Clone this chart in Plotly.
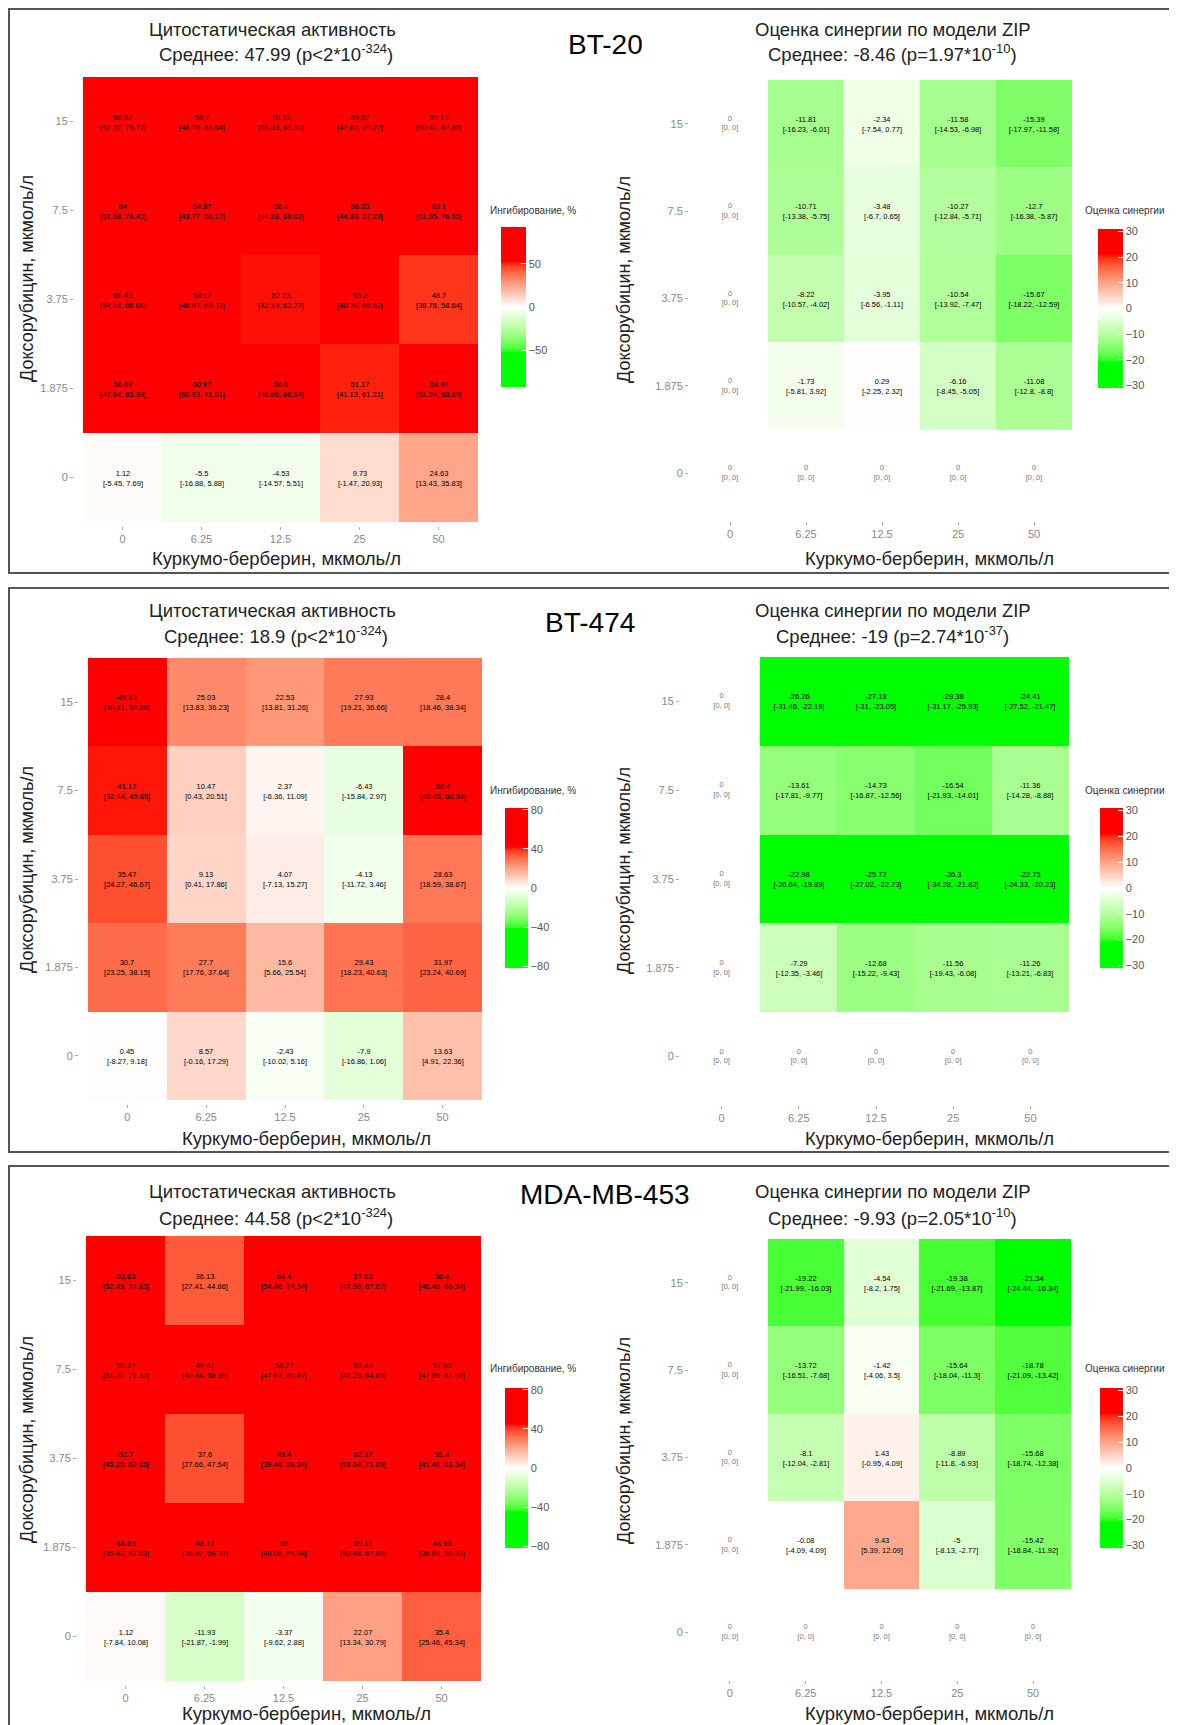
import numpy as np
import plotly.graph_objects as go

W, H = 1177, 1725

# ---------------- DATA ----------------
curcumin_ticks = ["0", "6.25", "12.5", "25", "50"]
doxo_ticks_top_down = ["15", "7.5", "3.75", "1.875", "0"]
cell_lines = ["BT-20", "BT-474", "MDA-MB-453"]

inhib_title = "Цитостатическая активность"
syn_title = "Оценка синергии по модели ZIP"
inhib_mean = ["47.99", "18.9", "44.58"]
inhib_p = ["p&lt;2*10<sup>-324</sup>", "p&lt;2*10<sup>-324</sup>", "p&lt;2*10<sup>-324</sup>"]
syn_mean = ["-8.46", "-19", "-9.93"]
syn_p = ["p=1.97*10<sup>-10</sup>", "p=2.74*10<sup>-37</sup>", "p=2.05*10<sup>-10</sup>"]

# rows: doxorubicin 15, 7.5, 3.75, 1.875, 0 ; columns: curcumin-berberine 0, 6.25, 12.5, 25, 50
bt20_inhib = [[68.57, 58.7, 70.13, 59.07, 59.13],
              [64, 54.97, 56.6, 56.03, 69.1],
              [60.43, 58.17, 52.23, 53.2, 48.7],
              [56.67, 60.97, 56.6, 51.17, 59.97],
              [1.12, -5.5, -4.53, 9.73, 24.63]]
bt20_inhib_lo = [[57.37, 48.76, 58.93, 47.87, 50.41],
                 [51.58, 43.77, 44.18, 44.83, 61.65],
                 [54.18, 46.97, 42.19, 40.78, 38.76],
                 [47.94, 50.93, 46.66, 41.13, 51.24],
                 [-5.45, -16.88, -14.57, -1.47, 13.43]]
bt20_inhib_hi = [[79.77, 68.64, 81.33, 70.27, 67.85],
                 [76.42, 66.17, 69.02, 67.23, 76.55],
                 [66.68, 69.37, 62.27, 65.62, 58.64],
                 [65.39, 71.01, 66.54, 61.21, 68.69],
                 [7.69, 5.88, 5.51, 20.93, 35.83]]
bt20_syn = [[0, -11.81, -2.34, -11.58, -15.39],
            [0, -10.71, -3.48, -10.27, -12.7],
            [0, -8.22, -3.95, -10.54, -15.67],
            [0, -1.73, 0.29, -6.16, -11.08],
            [0, 0, 0, 0, 0]]
bt20_syn_lo = [[0, -16.23, -7.54, -14.53, -17.97],
               [0, -13.38, -6.7, -12.84, -16.38],
               [0, -10.57, -6.56, -13.92, -18.22],
               [0, -5.81, -2.25, -8.45, -12.8],
               [0, 0, 0, 0, 0]]
bt20_syn_hi = [[0, -6.01, 0.77, -6.98, -11.58],
               [0, -5.75, 0.65, -5.71, -5.87],
               [0, -4.02, -1.11, -7.47, -12.59],
               [0, 3.92, 2.32, -5.05, -8.8],
               [0, 0, 0, 0, 0]]

bt474_inhib = [[49.13, 25.03, 22.53, 27.93, 28.4],
               [41.17, 10.47, 2.37, -6.43, 50.4],
               [35.47, 9.13, 4.07, -4.13, 28.63],
               [30.7, 27.7, 15.6, 29.43, 31.97],
               [0.45, 8.57, -2.43, -7.9, 13.63]]
bt474_inhib_lo = [[40.41, 13.83, 13.81, 19.21, 18.46],
                  [32.44, 0.43, -6.36, -15.84, 40.46],
                  [24.27, 0.41, -7.13, -11.72, 18.59],
                  [23.25, 17.76, 5.66, 18.23, 23.24],
                  [-8.27, -0.16, -10.02, -16.86, 4.91]]
bt474_inhib_hi = [[57.86, 36.23, 31.26, 36.66, 38.34],
                  [49.89, 20.51, 11.09, 2.97, 60.34],
                  [46.67, 17.86, 15.27, 3.46, 38.67],
                  [38.15, 37.64, 25.54, 40.63, 40.69],
                  [9.18, 17.29, 5.16, 1.06, 22.36]]
bt474_syn = [[0, -26.26, -27.18, -29.38, -24.41],
             [0, -13.61, -14.73, -16.54, -11.36],
             [0, -22.98, -25.72, -26.3, -22.75],
             [0, -7.29, -12.68, -11.56, -11.26],
             [0, 0, 0, 0, 0]]
bt474_syn_lo = [[0, -31.46, -31, -31.17, -27.52],
                [0, -17.81, -16.87, -21.93, -14.28],
                [0, -26.64, -27.02, -34.28, -24.33],
                [0, -12.35, -15.22, -19.43, -13.21],
                [0, 0, 0, 0, 0]]
bt474_syn_hi = [[0, -22.19, -23.05, -25.93, -21.47],
                [0, -9.77, -12.56, -14.01, -8.88],
                [0, -19.89, -22.73, -21.82, -20.23],
                [0, -3.46, -9.43, -6.08, -6.83],
                [0, 0, 0, 0, 0]]

mda_inhib = [[63.63, 36.13, 64.4, 57.63, 56.4],
             [61.27, 49.67, 58.27, 53.43, 57.93],
             [52.7, 37.6, 49.4, 62.37, 51.4],
             [46.63, 48.17, 56, 59.17, 48.93],
             [1.12, -11.93, -3.37, 22.07, 35.4]]
mda_inhib_lo = [[52.43, 27.41, 54.46, 47.59, 46.46],
                [51.23, 40.94, 47.07, 42.23, 47.89],
                [45.25, 27.66, 39.46, 53.64, 41.46],
                [35.43, 36.97, 46.06, 50.44, 38.89],
                [-7.84, -21.87, -9.62, 13.34, 25.46]]
mda_inhib_hi = [[74.83, 44.86, 74.34, 67.67, 66.34],
                [71.31, 58.39, 69.47, 64.63, 67.97],
                [60.15, 47.54, 59.34, 71.09, 61.34],
                [57.83, 59.37, 65.94, 67.89, 58.97],
                [10.08, -1.99, 2.88, 30.79, 45.34]]
mda_syn = [[0, -19.22, -4.54, -19.38, -21.34],
           [0, -13.72, -1.42, -15.64, -18.78],
           [0, -8.1, 1.43, -8.89, -15.68],
           [0, -0.08, 9.43, -5, -15.42],
           [0, 0, 0, 0, 0]]
mda_syn_lo = [[0, -21.99, -8.2, -21.69, -24.44],
              [0, -16.51, -4.06, -18.04, -21.09],
              [0, -12.04, -0.95, -11.8, -18.74],
              [0, -4.09, 5.39, -8.13, -18.84],
              [0, 0, 0, 0, 0]]
mda_syn_hi = [[0, -16.03, 1.75, -13.87, -16.34],
              [0, -7.68, 3.5, -11.3, -13.42],
              [0, -2.81, 4.09, -6.93, -12.38],
              [0, 4.09, 12.09, -2.77, -11.92],
              [0, 0, 0, 0, 0]]

inhib_sets = [(bt20_inhib, bt20_inhib_lo, bt20_inhib_hi),
              (bt474_inhib, bt474_inhib_lo, bt474_inhib_hi),
              (mda_inhib, mda_inhib_lo, mda_inhib_hi)]
syn_sets = [(bt20_syn, bt20_syn_lo, bt20_syn_hi),
            (bt474_syn, bt474_syn_lo, bt474_syn_hi),
            (mda_syn, mda_syn_lo, mda_syn_hi)]

# ---------------- STYLE / LAYOUT (pixels, page coordinates) ----------------
FONT = "Liberation Sans, Arial, sans-serif"
OFF = 8  # default page body margin of the html page
panels = [
    dict(frame=(9, 9, 1195, 573), t1=30, t2=53, lab=(605, 44),
         lh=(83, 77, 478, 522), rh=(692, 80, 1072, 517), lyax=73, ryax=688,
         lcb=(501, 227, 25, 160), rcb=(1098, 229, 25, 159), cbt=210,
         xtl=276, xtr=929, xty=558, yty=279,
         inhib_L=93, inhib_ticks=[-50, 0, 50], inhib_sat=53),
    dict(frame=(9, 588, 1195, 1152), t1=610, t2=635, lab=(590, 623),
         lh=(88, 658, 482, 1100), rh=(683, 657, 1069, 1101), lyax=78, ryax=679,
         lcb=(505, 808, 23, 160), rcb=(1100, 808, 23, 160), cbt=790,
         xtl=306, xtr=929, xty=1138, yty=870,
         inhib_L=82, inhib_ticks=[-80, -40, 0, 40, 80], inhib_sat=42),
    dict(frame=(9, 1166, 1195, 1760), t1=1191, t2=1217, lab=(605, 1194),
         lh=(86, 1236, 481, 1681), rh=(692, 1239, 1071, 1676), lyax=76, ryax=688,
         lcb=(505, 1388, 23, 160), rcb=(1100, 1388, 23, 160), cbt=1368,
         xtl=306, xtr=929, xty=1713, yty=1440,
         inhib_L=82, inhib_ticks=[-80, -40, 0, 40, 80], inhib_sat=45),
]
SYN_L, SYN_SAT, SYN_TICKS = 31, 21, [-30, -20, -10, 0, 10, 20, 30]


def px(x):
    return (x - OFF) / W


def py(y):
    return 1 - (y - OFF) / H


# ---- Lab interpolation for the green-white-red scale ----
def _lin(c):
    c = np.asarray(c, float) / 255
    return np.where(c <= 0.04045, c / 12.92, ((c + 0.055) / 1.055) ** 2.4)


_M = np.array([[0.4124, 0.3576, 0.1805], [0.2126, 0.7152, 0.0722], [0.0193, 0.1192, 0.9505]])
_MI = np.linalg.inv(_M)
_WN = np.array([0.95047, 1.0, 1.08883])
_d = 6 / 29


def rgb2lab(rgb):
    xyz = _M @ _lin(rgb) / _WN
    f = np.where(xyz > _d ** 3, np.cbrt(xyz), xyz / (3 * _d ** 2) + 4 / 29)
    return np.array([116 * f[1] - 16, 500 * (f[0] - f[1]), 200 * (f[1] - f[2])])


def lab2rgb(lab):
    fy = (lab[0] + 16) / 116
    f = np.array([fy + lab[1] / 500, fy, fy - lab[2] / 200])
    xyz = np.where(f > _d, f ** 3, 3 * _d ** 2 * (f - 4 / 29)) * _WN
    lin = np.clip(_MI @ xyz, 0, 1)
    s = np.where(lin <= 0.0031308, 12.92 * lin, 1.055 * lin ** (1 / 2.4) - 0.055)
    return np.round(np.clip(s, 0, 1) * 255).astype(int)


LAB_W, LAB_R, LAB_G = rgb2lab([255, 255, 255]), rgb2lab([255, 0, 0]), rgb2lab([0, 255, 0])


def make_scale(L, sat):
    pos = set(np.round(np.linspace(0, 1, 121), 6))
    pos |= {round((L - sat) / (2 * L), 6), round((L + sat) / (2 * L), 6), 0.5}
    out = []
    for p in sorted(pos):
        v = -L + 2 * L * p
        t = max(-1.0, min(1.0, v / sat))
        end = LAB_R if t >= 0 else LAB_G
        c = lab2rgb(LAB_W + (end - LAB_W) * abs(t))
        out.append([float(p), f"rgb({c[0]},{c[1]},{c[2]})"])
    return out


def fmt(v):
    s = f"{v:.2f}".rstrip("0").rstrip(".")
    return "0" if s in ("-0", "") else s


fig = go.Figure()
layout_axes = {}
annotations = []
shapes = []


def add_heat(idx, rect, yax_x, z, lo, hi, L, sat, ticks, cb, is_syn):
    n = idx + 1
    xa, ya = f"x{n}", f"y{n}"
    xs = list(range(len(curcumin_ticks)))
    ys = list(range(len(doxo_ticks_top_down)))
    text = []
    zx, zy, zt = [], [], []
    for i, row in enumerate(z):
        trow = []
        for j, v in enumerate(row):
            s = f"{fmt(v)}<br>[{fmt(lo[i][j])}, {fmt(hi[i][j])}]"
            if is_syn and (j == 0 or i == len(z) - 1):
                trow.append(" ")
                zx.append(j); zy.append(i); zt.append(s)
            else:
                trow.append(s)
        text.append(trow)
    fig.add_trace(go.Heatmap(
        z=z, x=xs, y=ys, text=text, texttemplate="%{text}",
        textfont=dict(family=FONT, size=7.5, color="black"),
        zmin=-L, zmax=L, colorscale=make_scale(L, sat),
        xaxis=xa, yaxis=ya, hoverinfo="skip",
        colorbar=dict(x=px(cb[0]), xanchor="left", y=py(cb[1]), yanchor="top",
                      len=cb[3], lenmode="pixels", thickness=cb[2], thicknessmode="pixels",
                      xpad=0, ypad=0, outlinewidth=0, tickvals=ticks,
                      ticks="inside", ticklen=5, tickcolor="white",
                      tickfont=dict(family=FONT, size=11, color="#555")),
    ))
    if zt:
        fig.add_trace(go.Scatter(x=zx, y=zy, mode="text", text=zt,
                                 textfont=dict(family=FONT, size=7.5, color="#777"),
                                 xaxis=xa, yaxis=ya, hoverinfo="skip", showlegend=False))
    x0, y0, x1, y1 = rect
    key = "" if n == 1 else str(n)
    layout_axes["xaxis" + key] = dict(
        domain=[px(x0), px(x1)], range=[-0.5, 4.5], anchor="free", position=py(y1 + 4),
        tickvals=xs, ticktext=curcumin_ticks, ticks="outside", ticklen=3, tickcolor="#aaa",
        showgrid=False, zeroline=False, showline=False, fixedrange=True,
        tickfont=dict(family=FONT, size=11, color="#888"))
    layout_axes["yaxis" + key] = dict(
        domain=[py(y1), py(y0)], range=[4.5, -0.5], anchor="free", position=px(yax_x),
        tickvals=ys, ticktext=doxo_ticks_top_down, ticks="outside", ticklen=3, tickcolor="#aaa",
        showgrid=False, zeroline=False, showline=False, fixedrange=True,
        tickfont=dict(family=FONT, size=11, color="#888"))


def ann(x, y, text, size, color="#222", xanchor="center", angle=0):
    annotations.append(dict(x=px(x), y=py(y), xref="paper", yref="paper", text=text,
                            showarrow=False, xanchor=xanchor, yanchor="middle",
                            textangle=angle, font=dict(family=FONT, size=size, color=color)))


for k, P in enumerate(panels):
    z, lo, hi = inhib_sets[k]
    add_heat(2 * k, P["lh"], P["lyax"], z, lo, hi, P["inhib_L"], P["inhib_sat"],
             P["inhib_ticks"], P["lcb"], False)
    z, lo, hi = syn_sets[k]
    add_heat(2 * k + 1, P["rh"], P["ryax"], z, lo, hi, SYN_L, SYN_SAT, SYN_TICKS, P["rcb"], True)

    fx0, fy0, fx1, fy1 = P["frame"]
    shapes.append(dict(type="rect", xref="paper", yref="paper", x0=px(fx0), x1=px(fx1),
                       y0=py(fy1), y1=py(fy0), line=dict(color="#555", width=2)))
    lc = 272
    rc = 893
    ann(lc, P["t1"], inhib_title, 18.5)
    ann(lc + 4, P["t2"], f"Среднее: {inhib_mean[k]} ({inhib_p[k]})", 18.5)
    ann(rc, P["t1"], syn_title, 18.5)
    ann(rc - 1, P["t2"], f"Среднее: {syn_mean[k]} ({syn_p[k]})", 18.5)
    ann(P["lab"][0], P["lab"][1], cell_lines[k], 28, color="black")
    ann(P["xtl"], P["xty"], "Куркумо-берберин, мкмоль/л", 18.5)
    ann(P["xtr"], P["xty"], "Куркумо-берберин, мкмоль/л", 18.5)
    ann(27, P["yty"], "Доксорубицин, мкмоль/л", 18, angle=-90)
    ann(624, P["yty"], "Доксорубицин, мкмоль/л", 18, angle=-90)
    ann(488, P["cbt"], "Ингибирование, %", 10, color="#333", xanchor="left")
    ann(1083, P["cbt"], "Оценка синергии", 10, color="#333", xanchor="left")

fig.update_layout(width=W, height=H, margin=dict(l=0, r=0, t=0, b=0),
                  paper_bgcolor="white", plot_bgcolor="white", showlegend=False,
                  annotations=annotations, shapes=shapes, **layout_axes)
fig.write_html("out.html")
